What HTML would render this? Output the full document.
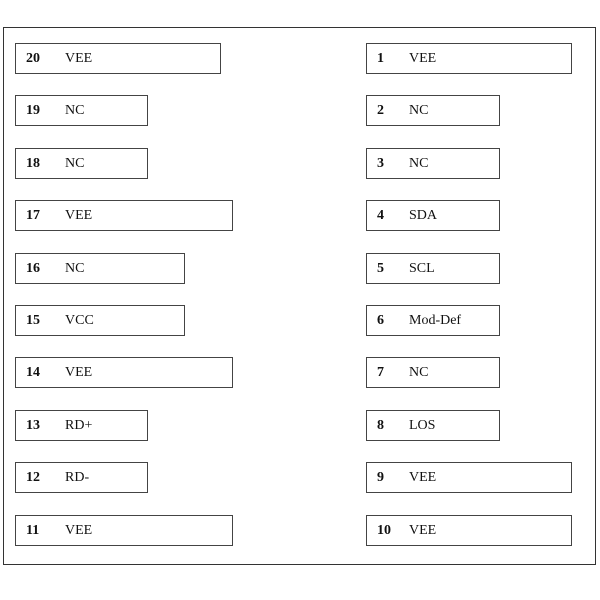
<!DOCTYPE html>
<html><head><style>
body{margin:0;width:600px;height:600px;background:#fff;position:relative;font-family:"Liberation Serif",serif;font-size:14px;color:#111}
.f{position:absolute;left:3px;top:27px;width:593px;height:538px;border:1px solid #333;box-sizing:border-box}
.b{position:absolute;height:31px;border:1px solid #444;box-sizing:border-box}
.n{position:absolute;top:7px;font-weight:bold}
.t{position:absolute;top:7px}
</style></head><body>
<div class="f"></div>
<div id="c"></div>
<script>
var L=[["20","VEE",221],["19","NC",148],["18","NC",148],["17","VEE",233],["16","NC",185],["15","VCC",185],["14","VEE",233],["13","RD+",148],["12","RD-",148],["11","VEE",233]];
var R=[["1","VEE",572],["2","NC",500],["3","NC",500],["4","SDA",500],["5","SCL",500],["6","Mod-Def",500],["7","NC",500],["8","LOS",500],["9","VEE",572],["10","VEE",572]];
var h="";
for(var i=0;i<10;i++){var y=Math.round(43+i*52.4);
h+='<div class="b" style="left:15px;top:'+y+'px;width:'+(L[i][2]-15)+'px"><span class="n" style="left:10px">'+L[i][0]+'</span><span class="t" style="left:49px">'+L[i][1]+'</span></div>';
h+='<div class="b" style="left:366px;top:'+y+'px;width:'+(R[i][2]-366)+'px"><span class="n" style="left:10px">'+R[i][0]+'</span><span class="t" style="left:42px">'+R[i][1]+'</span></div>';}
document.getElementById("c").innerHTML=h;
</script>
</body></html>
